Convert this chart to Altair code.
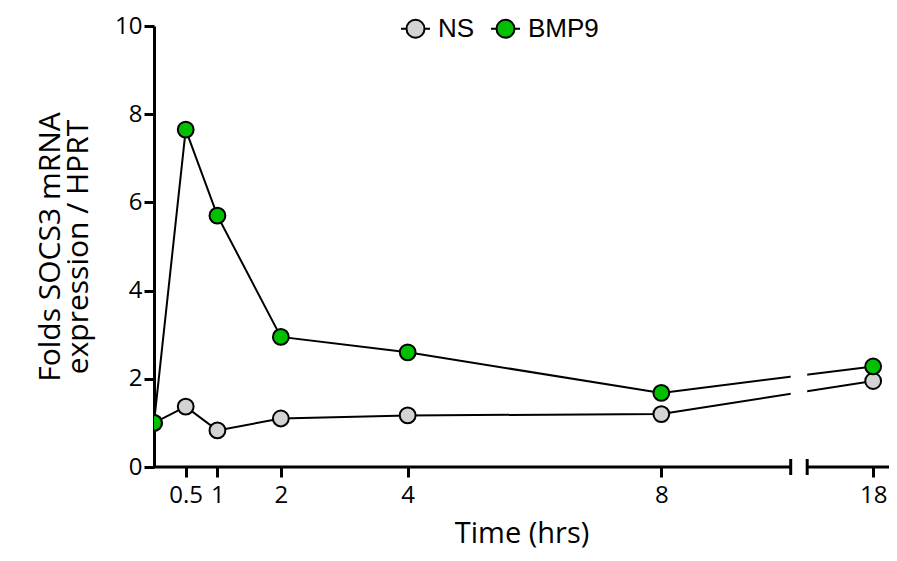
import altair as alt
import pandas as pd

# ---- data ----
hours = [0, 0.5, 1, 2, 4, 8, 18]
ns_values = [1.00, 1.37, 0.83, 1.10, 1.17, 1.20, 1.95]
bmp9_values = [1.00, 7.65, 5.70, 2.95, 2.60, 1.68, 2.28]
series_names = ["NS", "BMP9"]
series_colors = ["#D3D3D3", "#00C000"]

# ---- broken x axis layout (display units) ----
BREAK_POS = 11.34      # display position of the 18 h point, after the axis break
GAP = (10.04, 10.30)   # break gap on the axis / lines
X_MAX = 11.59
W, H = 735, 441


def pos(h):
    return h if h <= 8 else BREAK_POS


rows = []
for name, vals in zip(series_names, [ns_values, bmp9_values]):
    for h, v in zip(hours, vals):
        rows.append({"series": name, "hour": h, "x": pos(h), "value": v,
                     "series_order": series_names.index(name)})
df = pd.DataFrame(rows)

tick_positions = [pos(h) for h in hours if h > 0]

xscale = alt.Scale(domain=[0, X_MAX], nice=False, zero=False)
yscale = alt.Scale(domain=[0, 10], nice=False)

AXIS_FONT = "Open Sans"

x_axis = alt.Axis(
    values=tick_positions,
    labelExpr="datum.value > 10 ? '18' : format(datum.value, '~g')",
    domain=False, tickColor="black", tickWidth=3, tickSize=10,
    labelFontSize=24, labelFont=AXIS_FONT, labelColor="black", labelPadding=6,
    grid=False, title="Time (hrs)", titleFontSize=29, titleFont=AXIS_FONT,
    titleFontWeight="normal", titleColor="black", titlePadding=12,
)
y_axis = alt.Axis(
    values=[0, 2, 4, 6, 8, 10], domainColor="black", domainWidth=3,
    tickColor="black", tickWidth=3, tickSize=10,
    labelFontSize=24, labelFont=AXIS_FONT, labelColor="black", labelPadding=2,
    grid=False, title=["Folds SOCS3 mRNA", "expression / HPRT"],
    titleFontSize=30, titleFont=AXIS_FONT, titleFontWeight="normal",
    titleColor="black", titlePadding=21, titleLineHeight=28,
)


def X(field):
    return alt.X(field, scale=xscale, axis=x_axis)


lines = alt.Chart(df).mark_line(color="black", strokeWidth=2, clip=True).encode(
    x=X("x:Q"),
    y=alt.Y("value:Q", scale=yscale, axis=y_axis),
    detail="series:N",
)

gap_df = pd.DataFrame({"x0": [GAP[0]], "x1": [GAP[1]]})
gap = alt.Chart(gap_df).mark_rect(color="white").encode(
    x=X("x0:Q"), x2="x1:Q",
    y=alt.value(0), y2=alt.value(H - 2),
)

dom_df = pd.DataFrame({"x0": [0, GAP[1]], "x1": [GAP[0], X_MAX]})
domain = alt.Chart(dom_df).mark_rule(color="black", strokeWidth=3).encode(
    x=X("x0:Q"), x2="x1:Q", y=alt.value(H),
)

brk_df = pd.DataFrame({"x": list(GAP)})
breaks = alt.Chart(brk_df).mark_rule(color="black", strokeWidth=3).encode(
    x=X("x:Q"),
    y=alt.value(H - 8), y2=alt.value(H + 8),
)

legend_path = ("M-1,0L-0.62,0M0.62,0L1,0"
               "M0.62,0A0.62,0.62,0,1,1,-0.62,0A0.62,0.62,0,1,1,0.62,0Z")

points = alt.Chart(df).mark_point(
    filled=True, size=250, stroke="black", strokeWidth=2, opacity=1, clip=True
).encode(
    x=X("x:Q"),
    y=alt.Y("value:Q", scale=yscale, axis=y_axis),
    fill=alt.Fill(
        "series:N",
        scale=alt.Scale(domain=series_names, range=series_colors),
        legend=alt.Legend(
            orient="none", legendX=246, legendY=-13, direction="horizontal",
            title=None, symbolType=legend_path, symbolSize=841,
            symbolStrokeColor="black", symbolStrokeWidth=2, symbolOpacity=1,
            labelFontSize=26, labelFont="Liberation Sans", labelColor="black",
            labelOffset=7, columnPadding=12,
        ),
    ),
    order=alt.Order("series_order:Q"),
)

chart = alt.layer(lines, gap, domain, breaks, points).properties(
    width=W, height=H,
    autosize=alt.AutoSizeParams(type="none"),
    padding={"left": 146, "top": 18, "right": 0, "bottom": 86},
).configure_view(stroke=None)

chart.save("out.html", embed_options={"renderer": "svg", "actions": False})
